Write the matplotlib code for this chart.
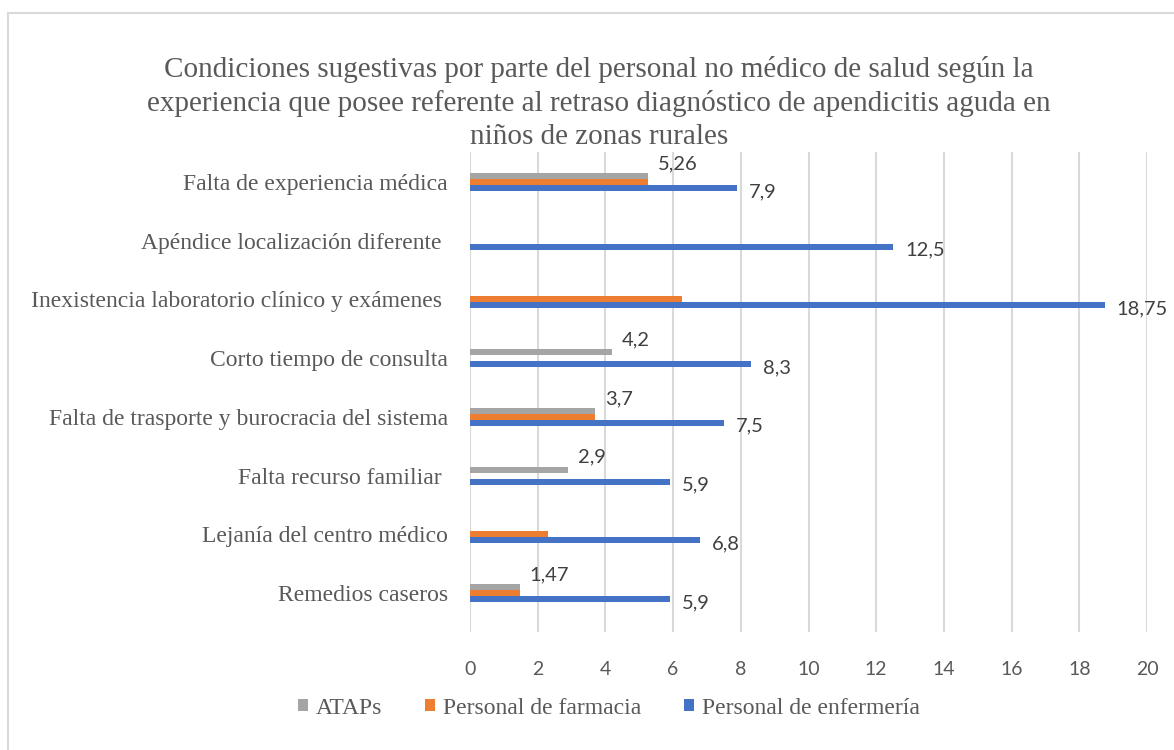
import matplotlib
matplotlib.use("Agg")
import matplotlib.pyplot as plt
from matplotlib.patches import Rectangle
import numpy as np

categories = [
    "Falta de experiencia médica",
    "Apéndice localización diferente ",
    "Inexistencia laboratorio clínico y exámenes ",
    "Corto tiempo de consulta",
    "Falta de trasporte y burocracia del sistema",
    "Falta recurso familiar ",
    "Lejanía del centro médico",
    "Remedios caseros",
]
atap = [5.26, 0, 0, 4.2, 3.7, 2.9, 0, 1.47]
farmacia = [5.26, 0, 6.25, 0, 3.7, 0, 2.3, 1.47]
enfermeria = [7.9, 12.5, 18.75, 8.3, 7.5, 5.9, 6.8, 5.9]
atap_labels = ["5,26", "", "", "4,2", "3,7", "2,9", "", "1,47"]
enf_labels = ["7,9", "12,5", "18,75", "8,3", "7,5", "5,9", "6,8", "5,9"]
series_names = ["ATAPs", "Personal de farmacia", "Personal de enfermería"]
xticks = [0, 2, 4, 6, 8, 10, 12, 14, 16, 18, 20]

c_gray = "#A5A5A5"
c_orange = "#ED7D31"
c_blue = "#4472C4"
txt = "#595959"
serif = ["Liberation Serif", "DejaVu Serif"]
sans = ["Lato", "DejaVu Sans"]

fig = plt.figure(figsize=(11.74, 7.5), dpi=100)
fig.patches.append(Rectangle((8 / 1174, -0.1), 1.2, 1 - 13 / 750 + 0.1,
                             transform=fig.transFigure, fill=False,
                             edgecolor="#D9D9D9", linewidth=1.5))
ax = fig.add_axes([470 / 1174, 1 - 632 / 750, (1147 - 470) / 1174, (632 - 152) / 750])

y = np.arange(len(categories))
h = 0.102
b1 = ax.barh(y - h, atap, height=h, color=c_gray, label=series_names[0], zorder=3)
b2 = ax.barh(y, farmacia, height=h, color=c_orange, label=series_names[1], zorder=3)
b3 = ax.barh(y + h, enfermeria, height=h, color=c_blue, label=series_names[2], zorder=3)

for yi, v, lab in zip(y, atap, atap_labels):
    if lab:
        ax.annotate(lab, (v, yi - h), xytext=(7, 9), textcoords="offset points",
                    ha="left", va="center", fontsize=14.5, color="#404040", family=sans)
for yi, v, lab in zip(y, enfermeria, enf_labels):
    ax.annotate(lab, (v, yi + h), xytext=(8.5, -2.5), textcoords="offset points",
                ha="left", va="center", fontsize=14.5, color="#404040", family=sans)

ax.set_ylim(7.664, -0.511)
ax.set_xlim(0, 20)
ax.set_xticks(xticks)
ax.set_xticklabels([str(t) for t in xticks], family=sans, fontsize=14, color=txt)
ax.set_yticks(y)
ax.set_yticklabels(categories, family=serif, fontsize=17, color=txt)
ax.tick_params(axis="both", length=0)
ax.tick_params(axis="y", pad=16)
ax.tick_params(axis="x", pad=21)
ax.grid(axis="x", color="#D9D9D9", linewidth=1.5, zorder=0)
for s in ax.spines.values():
    s.set_visible(False)

fig.text(599 / 1174, 1 - 103 / 750,
         "Condiciones sugestivas por parte del personal no médico de salud según la\n"
         "experiencia que posee referente al retraso diagnóstico de apendicitis aguda en\n"
         "niños de zonas rurales",
         ha="center", va="center", family=serif, fontsize=21, color=txt,
         linespacing=1.33)

leg = fig.legend(handles=[b1, b2, b3], labels=series_names, loc="center",
                 bbox_to_anchor=(609 / 1174, 1 - 708 / 750), ncol=3, frameon=False,
                 prop={"family": serif, "size": 17}, handlelength=0.42, handleheight=0.42,
                 handletextpad=0.35, columnspacing=1.8)
for t in leg.get_texts():
    t.set_color(txt)

fig.savefig("out.png", dpi=100)
